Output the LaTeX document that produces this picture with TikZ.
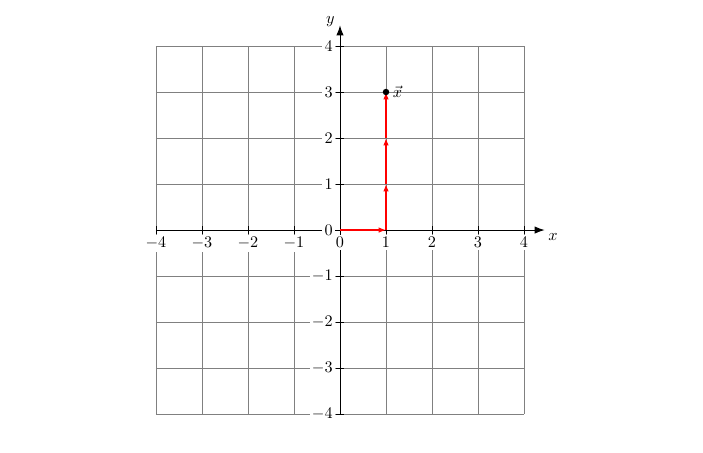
\documentclass[tikz,border=0pt]{standalone}
\usetikzlibrary{arrows.meta}
\begin{document}
\begin{tikzpicture}[
  gridline/.style={gray, line width=0.4pt},
  axisline/.style={black, line width=0.6pt, -{Latex[length=2.2mm,width=1.6mm]}},
  ticklbl/.style={fill=white, inner sep=1.5pt},
  vecstep/.style={red, line width=0.8pt, -{Latex[length=1.6mm,width=1.2mm]}}
]
\useasboundingbox (-7.39,-4.83) rectangle (7.89,5.0);
\draw[gridline] (-4,-4) grid (4,4);
\draw[axisline] (-4,0) -- (4.45,0) node[anchor=north west, inner sep=2pt] {$x$};
\draw[axisline] (0,-4) -- (0,4.45) node[anchor=south east, inner sep=2pt, xshift=-1pt, yshift=-3pt] {$y$};
\foreach \i in {-4,...,4} {
  \draw (\i,0.08) -- (\i,-0.08);
  \draw (0.08,\i) -- (-0.08,\i);
  \node[ticklbl, anchor=north] at (\i,-0.1) {$\i$};
  \node[ticklbl, anchor=east] at (-0.1,\i) {$\i$};
}
\coordinate (o) at (0,0);
\coordinate (p1) at (1,0);
\coordinate (p2) at (1,1);
\coordinate (p3) at (1,2);
\coordinate (p4) at (1,3);
\draw[vecstep] (o) -- (p1);
\draw[vecstep] (p1) -- (p2);
\draw[vecstep] (p2) -- (p3);
\draw[vecstep] (p3) -- (p4);
\fill (p4) circle (2pt);
\node[right, inner sep=4pt] (xv) at (p4) {$\vec{x}$};
\end{tikzpicture}
\end{document}
